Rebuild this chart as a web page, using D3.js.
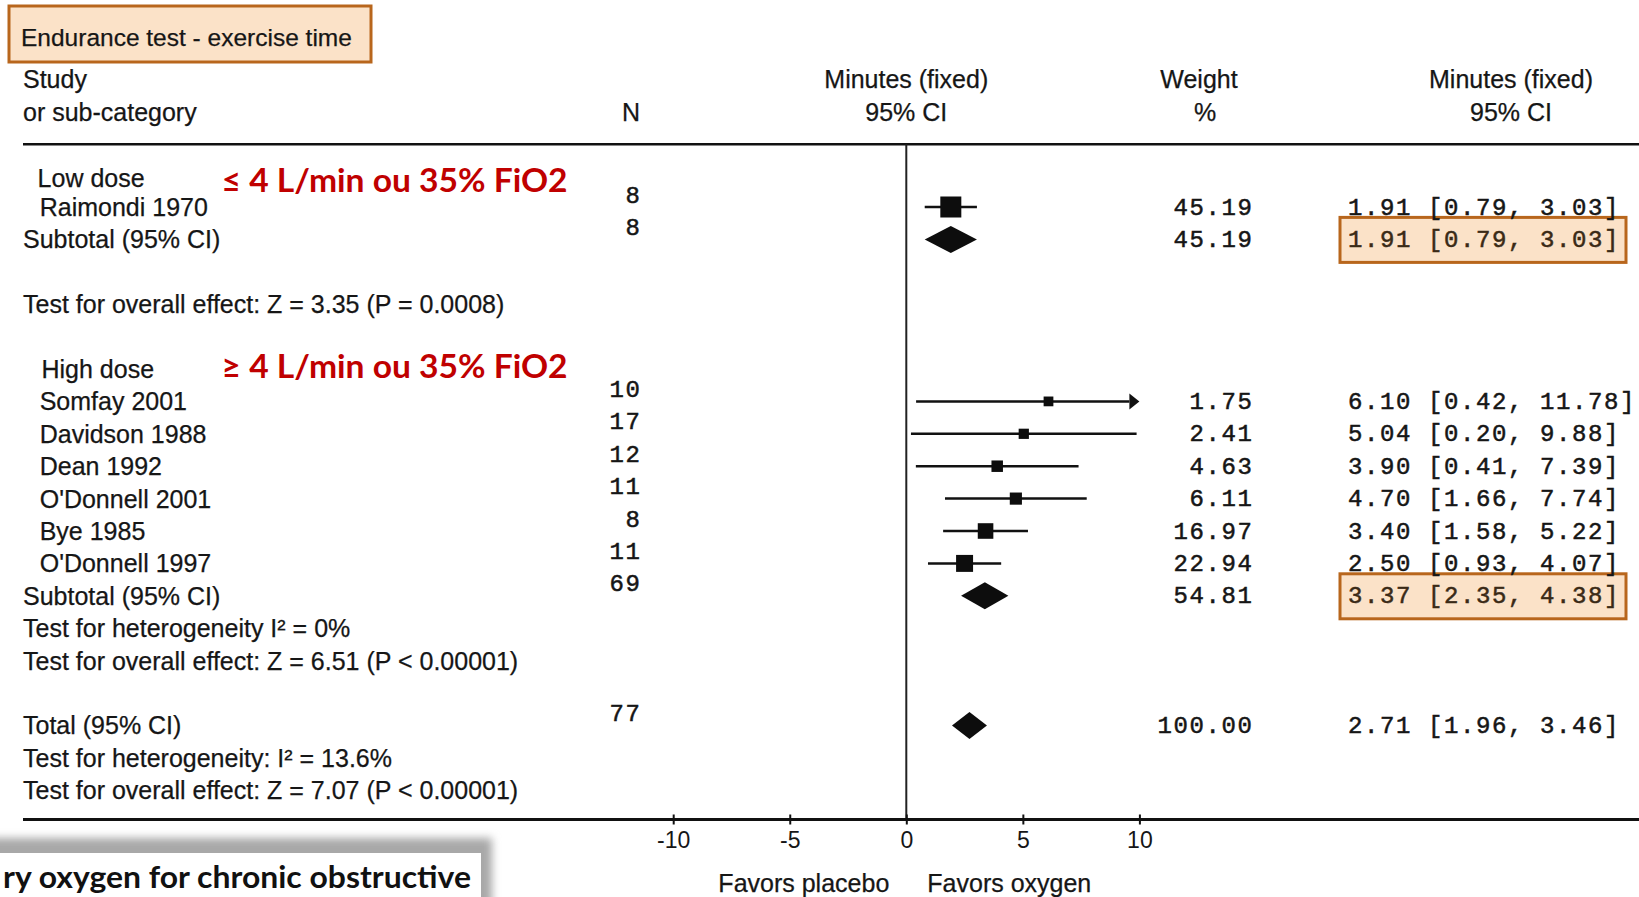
<!DOCTYPE html>
<html>
<head>
<meta charset="utf-8">
<script src="https://cdn.jsdelivr.net/npm/d3@7"></script>
<style>
  body { margin: 0; background: #fff; }
  svg { display: block; }
</style>
</head>
<body>
<svg id="chart" width="1639" height="897"></svg>
<script>
// ---- Data --------------------------------------------------------------
const studyNames  = ["Raimondi 1970", "Somfay 2001", "Davidson 1988", "Dean 1992", "O'Donnell 2001", "Bye 1985", "O'Donnell 1997"];
const studyGroup  = ["low", "high", "high", "high", "high", "high", "high"];
const studyN      = [8, 10, 17, 12, 11, 8, 11];
const studyMD     = [1.91, 6.10, 5.04, 3.90, 4.70, 3.40, 2.50];
const studyLo     = [0.79, 0.42, 0.20, 0.41, 1.66, 1.58, 0.93];
const studyHi     = [3.03, 11.78, 9.88, 7.39, 7.74, 5.22, 4.07];
const studyWeight = [45.19, 1.75, 2.41, 4.63, 6.11, 16.97, 22.94];

const summaryLabels = ["Subtotal (95% CI)", "Subtotal (95% CI)", "Total (95% CI)"];
const summaryN      = [8, 69, 77];
const summaryMD     = [1.91, 3.37, 2.71];
const summaryLo     = [0.79, 2.35, 1.96];
const summaryHi     = [3.03, 4.38, 3.46];
const summaryWeight = [45.19, 54.81, 100.00];
const summaryHighlighted = [true, true, false];

const groupTitles = ["Low dose", "High dose"];
const doseNotes   = ["≤ 4 L/min ou 35% FiO2", "≥ 4 L/min ou 35% FiO2"];
const statLines = [
  "Test for overall effect: Z = 3.35 (P = 0.0008)",
  "Test for heterogeneity  I² = 0%",
  "Test for overall effect: Z = 6.51 (P < 0.00001)",
  "Test for heterogeneity: I² = 13.6%",
  "Test for overall effect: Z = 7.07 (P < 0.00001)"
];
const xTicks = [-10, -5, 0, 5, 10];
const chartTitle = "Endurance test - exercise time";
const favorLabels = ["Favors placebo", "Favors oxygen"];
const sourceSnippet = "ry oxygen for chronic obstructive";

// ---- Layout ------------------------------------------------------------
const W = 1639, H = 897;
const SANS = '"Liberation Sans", Arial, sans-serif';
const MONO = '"Liberation Mono", "Courier New", monospace';
const INK = "#161616";

// row order of the table (row slot for each line)
const groupRow   = [0, 6];
const studyRow   = [1, 7, 8, 9, 10, 11, 12];
const summaryRow = [2, 13, 17];
const statRow    = [4, 14, 15, 18, 19];

const svg = d3.select("#chart");
svg.append("rect").attr("width", W).attr("height", H).attr("fill", "#fff");

const x  = d3.scaleLinear().domain([-10, 10]).range([673.2, 1139.4]);
const y  = d3.scaleLinear().domain([0, 19]).range([174.6, 790.2]);
const sq = d3.scalePow().exponent(0.5).domain([0, 45.19]).range([7, 21]);

const colN = 640, colW = 1252, colCI = 1348;
const axisY = 819.5, headerLineY = 144.3;
const fmt2 = d3.format(".2f");
const ciText = (m, l, h) => `${fmt2(m)} [${fmt2(l)}, ${fmt2(h)}]`;

const sansText = (g, txt, xx, yy, anchor = "start", size = 25) =>
  g.append("text").attr("x", xx).attr("y", yy)
    .attr("dominant-baseline", "central").attr("text-anchor", anchor)
    .attr("font-family", SANS).attr("font-size", size).attr("fill", INK)
    .attr("stroke", INK).attr("stroke-width", 0.25)
    .text(txt);

const monoText = (g, txt, xx, yy, anchor = "start") =>
  g.append("text").attr("x", xx).attr("y", yy)
    .attr("dominant-baseline", "central").attr("text-anchor", anchor)
    .attr("font-family", MONO).attr("font-size", 24).attr("letter-spacing", 1.6)
    .attr("fill", INK).attr("stroke", INK).attr("stroke-width", 0.5)
    .text(txt);

// ---- Title box ---------------------------------------------------------
svg.append("rect").attr("x", 9).attr("y", 6).attr("width", 362).attr("height", 56)
  .attr("fill", "#fbe2c8").attr("stroke", "#b8661c").attr("stroke-width", 3);
sansText(svg, chartTitle, 21, 37, "start", 24.5);

// ---- Column headers ----------------------------------------------------
const head = svg.append("g");
sansText(head, "Study", 23, 79.4);
sansText(head, "or sub-category", 23, 111.8);
sansText(head, "N", 631, 111.8, "middle");
sansText(head, "Minutes (fixed)", x(0), 79.4, "middle");
sansText(head, "95% CI", x(0), 111.8, "middle");
sansText(head, "Weight", 1199, 79.4, "middle");
sansText(head, "%", 1205, 111.8, "middle");
sansText(head, "Minutes (fixed)", 1511, 79.4, "middle");
sansText(head, "95% CI", 1511, 111.8, "middle");

svg.append("line").attr("x1", 23).attr("x2", W).attr("y1", headerLineY).attr("y2", headerLineY)
  .attr("stroke", "#111").attr("stroke-width", 2.5);

// ---- Highlight boxes behind subtotal CI text ---------------------------
summaryRow.forEach((r, i) => {
  if (!summaryHighlighted[i]) return;
  svg.append("rect").attr("x", 1340).attr("y", y(r) - 22).attr("width", 286).attr("height", 45)
    .attr("fill", "#fbe2c8").attr("stroke", "#b8661c").attr("stroke-width", 3);
});

// ---- Zero line ---------------------------------------------------------
svg.append("line").attr("x1", x(0)).attr("x2", x(0)).attr("y1", headerLineY).attr("y2", axisY)
  .attr("stroke", "#222").attr("stroke-width", 2);

// ---- Group titles and dose notes --------------------------------------
groupTitles.forEach((t, i) => {
  sansText(svg, t, i === 0 ? 37.6 : 41.5, y(groupRow[i]) + (i === 0 ? 3 : 0));
  svg.append("text").attr("x", 221.6).attr("y", y(groupRow[i]) + (i === 0 ? 5 : -4))
    .attr("dominant-baseline", "central")
    .attr("font-family", "Lato, 'Open Sans', sans-serif").attr("font-weight", 700)
    .attr("font-size", 32).attr("fill", "#c00000")
    .attr("textLength", 346).attr("lengthAdjust", "spacingAndGlyphs")
    .text(doseNotes[i]);
});

// ---- Individual studies -----------------------------------------------
const studies = studyNames.map((name, i) => ({
  name, n: studyN[i], md: studyMD[i], lo: studyLo[i], hi: studyHi[i],
  w: studyWeight[i], row: studyRow[i]
}));

const sg = svg.append("g");
studies.forEach(d => {
  const yy = y(d.row);
  sansText(sg, d.name, 39.7, yy);
  monoText(sg, String(d.n), colN + 1.6, yy - 11, "end");
  monoText(sg, fmt2(d.w), colW + 1.6, yy + 1, "end");
  monoText(sg, ciText(d.md, d.lo, d.hi), colCI, yy + 1);

  const [dLo, dHi] = x.domain();
  const clippedHi = Math.min(d.hi, dHi), clippedLo = Math.max(d.lo, dLo);
  const arrowW = 10;
  sg.append("line")
    .attr("x1", x(clippedLo)).attr("x2", d.hi > dHi ? x(clippedHi) - arrowW : x(clippedHi))
    .attr("y1", yy).attr("y2", yy)
    .attr("stroke", "#111").attr("stroke-width", 2.5);
  if (d.hi > dHi) {
    const tip = x(dHi);
    sg.append("path")
      .attr("d", `M${tip},${yy} L${tip - arrowW},${yy - 8} L${tip - arrowW},${yy + 8} Z`)
      .attr("fill", "#111");
  }
  const s = sq(d.w);
  sg.append("rect").attr("x", x(d.md) - s / 2).attr("y", yy - s / 2)
    .attr("width", s).attr("height", s).attr("fill", "#0d0d0d");
});

// ---- Pooled estimates (diamonds) --------------------------------------
const summaries = summaryLabels.map((label, i) => ({
  label, n: summaryN[i], md: summaryMD[i], lo: summaryLo[i], hi: summaryHi[i],
  w: summaryWeight[i], row: summaryRow[i], hl: summaryHighlighted[i]
}));

const pg = svg.append("g");
summaries.forEach(d => {
  const yy = y(d.row);
  sansText(pg, d.label, 23, yy);
  monoText(pg, String(d.n), colN + 1.6, yy - 11, "end");
  monoText(pg, fmt2(d.w), colW + 1.6, yy + 1, "end");
  monoText(pg, ciText(d.md, d.lo, d.hi), colCI, yy + 1)
    .attr("fill", d.hl ? "#3a2a16" : INK).attr("stroke", d.hl ? "#3a2a16" : INK);
  const hh = 13.5;
  pg.append("path")
    .attr("d", `M${x(d.lo)},${yy} L${x(d.md)},${yy - hh} L${x(d.hi)},${yy} L${x(d.md)},${yy + hh} Z`)
    .attr("fill", "#0d0d0d");
});

// ---- Test statistics ---------------------------------------------------
statLines.forEach((t, i) => sansText(svg, t, 23, y(statRow[i])));

// ---- Axis --------------------------------------------------------------
svg.append("line").attr("x1", 23).attr("x2", W).attr("y1", axisY).attr("y2", axisY)
  .attr("stroke", "#111").attr("stroke-width", 3);

const axis = d3.axisBottom(x).tickValues(xTicks).tickSize(10).tickPadding(7)
  .tickFormat(d => String(d));
const ag = svg.append("g").attr("transform", `translate(0,${axisY - 5})`).call(axis);
ag.select(".domain").remove();
ag.selectAll(".tick line").attr("stroke", "#111").attr("stroke-width", 2);
ag.selectAll(".tick text").attr("font-family", SANS).attr("font-size", 23).attr("fill", INK);

sansText(svg, favorLabels[0], x(0) - 17, 883.3, "end");
sansText(svg, favorLabels[1], x(0) + 21, 883.3, "start");

// ---- Source snippet box (bottom left) ---------------------------------
const defs = svg.append("defs");
defs.append("filter").attr("id", "shadowBlur").attr("x", "-20%").attr("y", "-50%")
  .attr("width", "140%").attr("height", "200%")
  .append("feGaussianBlur").attr("stdDeviation", 4);

svg.append("rect").attr("x", -20).attr("y", 838).attr("width", 512).attr("height", 80)
  .attr("fill", "#a8a8a8").attr("filter", "url(#shadowBlur)");
svg.append("rect").attr("x", -20).attr("y", 853).attr("width", 501).attr("height", 60)
  .attr("fill", "#fff");
svg.append("text").attr("x", 3).attr("y", 888)
  .attr("font-family", "Lato, 'Open Sans', sans-serif").attr("font-weight", 700)
  .attr("font-size", 30).attr("fill", "#111")
  .attr("textLength", 468).attr("lengthAdjust", "spacingAndGlyphs")
  .text(sourceSnippet);
</script>
</body>
</html>
